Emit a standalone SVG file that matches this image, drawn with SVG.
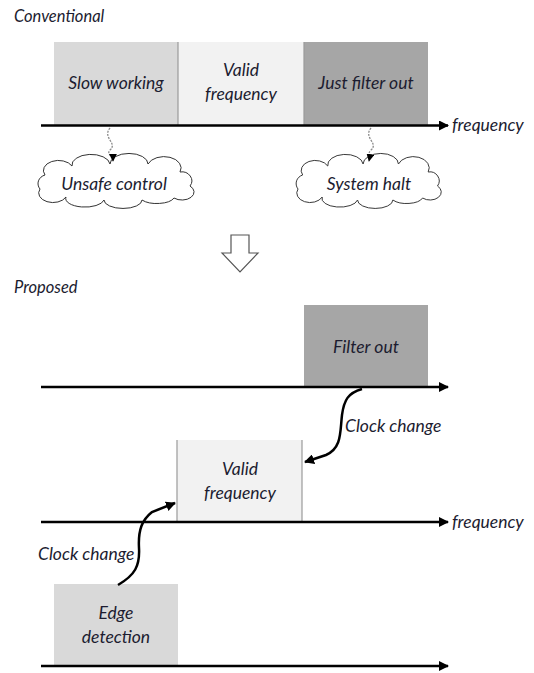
<svg xmlns="http://www.w3.org/2000/svg" width="534" height="673" viewBox="0 0 534 673">
<style>
.t{font-family:Lato,"Liberation Sans",sans-serif;font-style:italic;font-size:17.5px;fill:#1c1c30}
.c{text-anchor:middle}
.ax{stroke:#000;stroke-width:2.5;fill:none}
.cv{stroke:#000;stroke-width:2.5;fill:none}
.dv{stroke:#9a9a9a;stroke-width:1.2}
.cloud{fill:#fff;stroke:#333;stroke-width:1}
.sq{stroke:#8a8a8a;stroke-width:1.3;stroke-dasharray:2 1.2;fill:none}
</style>
<defs>
<marker id="ah" viewBox="0 0 10 10" refX="9" refY="5" markerWidth="4" markerHeight="4" orient="auto" markerUnits="strokeWidth"><path d="M0,0L10,5L0,10z" fill="#000"/></marker>
<marker id="ahs" viewBox="0 0 10 10" refX="9" refY="5" markerWidth="6" markerHeight="6" orient="auto" markerUnits="strokeWidth"><path d="M0,0L10,5L0,10z" fill="#000"/></marker>
<path id="cl" d="M0,0 a10,9 0 0 1 5,-14 a15,10 0 0 1 27,-9 a18,10 0 0 1 38,-2 a18,10 0 0 1 38,0 a15,10 0 0 1 32,8 a10,9 0 0 1 10,14 a12,8 0 0 1 -16,12 a18,8 0 0 1 -32,2 a18,8 0 0 1 -38,0 a18,8 0 0 1 -38,-3 a12,8 0 0 1 -26,-8 z"/>
</defs>

<text class="t" x="14" y="22" style="font-size:16.5px">Conventional</text>
<text class="t" x="14" y="293" style="font-size:16.5px">Proposed</text>

<g id="slow-working">
<rect x="54" y="42" width="124" height="83" fill="#d9d9d9"/>
<text class="t c" x="116" y="89">Slow working</text>
</g>
<g id="valid-frequency-top">
<rect x="178" y="42" width="126" height="83" fill="#f2f2f2"/>
<line class="dv" x1="178" y1="42" x2="178" y2="125"/>
<text class="t c" x="241" y="76">Valid</text>
<text class="t c" x="241" y="100">frequency</text>
</g>
<g id="just-filter-out">
<rect x="304" y="42" width="124" height="83" fill="#a6a6a6"/>
<line class="dv" x1="304" y1="42" x2="304" y2="125" stroke="#888"/>
<text class="t c" x="366" y="89">Just filter out</text>
</g>

<g id="unsafe-control">
<use href="#cl" class="cloud" transform="translate(40,189)"/>
<text class="t c" x="114" y="190">Unsafe control</text>
</g>
<g id="system-halt">
<use href="#cl" class="cloud" transform="translate(298,189) scale(0.93,1)"/>
<text class="t c" x="369" y="190">System halt</text>
</g>

<g id="transition-arrow">
<polygon points="231,235 249,235 249,253 258,253 240,272 222,253 231,253" fill="#fff" stroke="#555" stroke-width="1.2"/>
</g>

<g id="filter-out">
<rect x="304" y="305" width="124" height="82" fill="#a6a6a6"/>
<text class="t c" x="366" y="353">Filter out</text>
</g>
<g id="valid-frequency">
<rect x="177" y="440" width="125" height="82" fill="#f2f2f2"/>
<line class="dv" x1="177" y1="440" x2="177" y2="522"/>
<line class="dv" x1="302" y1="440" x2="302" y2="522"/>
<text class="t c" x="240" y="475">Valid</text>
<text class="t c" x="240" y="499">frequency</text>
</g>
<g id="edge-detection">
<rect x="54" y="584" width="124" height="82" fill="#d9d9d9"/>
<text class="t c" x="116" y="619">Edge</text>
<text class="t c" x="116" y="643">detection</text>
</g>

<g id="connectors">
<line class="ax" x1="41" y1="125.5" x2="448" y2="125.5" marker-end="url(#ah)"/>
<line class="ax" x1="41" y1="387" x2="448" y2="387" marker-end="url(#ah)"/>
<line class="ax" x1="41" y1="522" x2="448" y2="522" marker-end="url(#ah)"/>
<line class="ax" x1="41" y1="666" x2="448" y2="666" marker-end="url(#ah)"/>
<path class="sq" d="M110,128 C102,138 118,143 110,150 C106,154 113,156 113,161" marker-end="url(#ahs)"/>
<path class="sq" d="M371,128 C363,138 379,143 371,150 C367,154 370,156 369,161" marker-end="url(#ahs)"/>
<path class="cv" d="M362,389 C348,393 344,400 342,415 C340,432 342,448 326,455 L305,462" marker-end="url(#ah)"/>
<path class="cv" d="M118,585 C135,575 140,566 139,548 C138,530 142,520 152,512 L175,503" marker-end="url(#ah)"/>
</g>
<text class="t" x="452" y="131">frequency</text>
<text class="t" x="452" y="528">frequency</text>
<text class="t" x="345" y="432">Clock change</text>
<text class="t" x="38" y="560">Clock change</text>
</svg>
